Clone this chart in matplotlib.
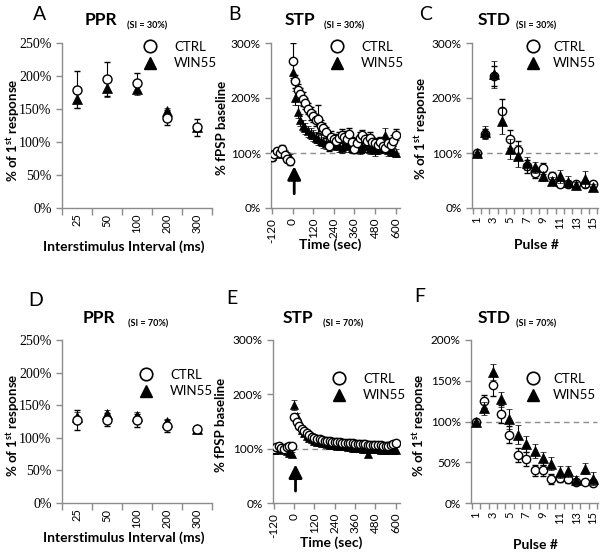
import matplotlib
matplotlib.use('Agg')
import matplotlib.pyplot as plt
from matplotlib.lines import Line2D
import numpy as np

plt.rcParams['font.family'] = ['Lato', 'DejaVu Sans']
plt.rcParams['mathtext.fontset'] = 'custom'
plt.rcParams['mathtext.rm'] = 'Lato'
plt.rcParams['mathtext.bf'] = 'Lato:bold'

# ---------------- data ----------------
ppr_labels = ['25', '50', '100', '200', '300']

pprA_ctrl = [179, 195, 190, 137, 122]
pprA_ctrl_err = [28, 26, 14, 11, 13]
pprA_win = [165, 182, 181, 147, 122]
pprA_win_err = [13, 14, 10, 5, 5]

pprD_ctrl = [127, 128, 127, 118, 113]
pprD_ctrl_err = [15, 10, 10, 9, 5]
pprD_win = [132, 136, 134, 124, 114]
pprD_win_err = [8, 7, 6, 5, 3]

stp_time = list(range(-120, 0, 15)) + list(range(0, 601, 15))

stpB_ctrl = [92, 98, 104, 100, 108, 97, 90, 85,
             268, 230, 215, 208, 198, 190, 180, 172, 167, 160, 162, 150, 145, 138,
             112, 130, 125, 122, 128, 133, 130, 125, 135, 120, 108, 118, 128, 132,
             125, 122, 128, 120, 118, 115, 120, 112, 110, 118, 115, 122, 133]
stpB_ctrl_err = [6, 6, 6, 6, 6, 6, 6, 6,
                 32, 12, 10, 10, 12, 10, 10, 12, 10, 10, 25, 10, 10, 10,
                 8, 10, 10, 10, 10, 10, 10, 10, 10, 10, 8, 10, 10, 10,
                 10, 10, 10, 10, 10, 10, 10, 8, 8, 10, 10, 10, 10]
stpB_win = [95, 100, 102, 98, 105, 100, 95, 93,
            248, 200, 175, 160, 150, 145, 140, 135, 132, 128, 125, 122, 120, 118,
            120, 118, 115, 118, 112, 110, 115, 118, 112, 110, 115, 112, 108, 110,
            115, 112, 108, 110, 105, 108, 112, 110, 132, 105, 103, 102, 100]
stpB_win_err = [6, 6, 6, 6, 6, 6, 6, 6,
                15, 12, 12, 10, 10, 10, 10, 10, 10, 10, 10, 10, 10, 10,
                10, 10, 10, 10, 10, 10, 10, 10, 10, 10, 10, 10, 10, 10,
                10, 10, 10, 10, 10, 10, 10, 10, 14, 10, 8, 8, 8]

stpE_ctrl = [100, 103, 105, 102, 100, 103, 105, 104,
             158, 150, 142, 137, 132, 128, 125, 122, 120, 118, 117, 116, 115, 114,
             114, 113, 113, 112, 112, 111, 111, 110, 110, 110, 109, 109, 108, 108,
             108, 107, 107, 107, 106, 106, 106, 105, 105, 105, 106, 108, 110]
stpE_ctrl_err = [4, 4, 4, 4, 4, 4, 4, 4,
                 6, 5, 5, 5, 5, 5, 5, 5, 5, 5, 5, 5, 5, 5,
                 5, 5, 5, 5, 5, 5, 5, 5, 5, 5, 5, 5, 5, 5,
                 5, 5, 5, 5, 5, 5, 5, 5, 5, 5, 5, 5, 5]
stpE_win = [98, 100, 97, 100, 99, 96, 92, 90,
            180, 160, 145, 135, 128, 124, 120, 118, 115, 113, 112, 110, 110, 108,
            107, 107, 106, 105, 105, 104, 104, 103, 103, 102, 102, 101, 101, 100,
            100, 90, 100, 99, 99, 99, 98, 98, 98, 98, 98, 98, 98]
stpE_win_err = [4, 4, 4, 4, 4, 4, 4, 4,
                9, 6, 5, 5, 5, 5, 5, 5, 5, 5, 5, 5, 5, 5,
                5, 5, 5, 5, 5, 5, 5, 5, 5, 5, 5, 5, 5, 5,
                5, 5, 5, 5, 5, 5, 5, 5, 5, 5, 5, 5, 5]

pulses = list(range(1, 16))

stdC_ctrl = [100, 135, 240, 176, 126, 106, 76, 64, 72, 58, 44, 44, 44, 44, 44]
stdC_ctrl_err = [2, 8, 18, 23, 16, 15, 12, 10, 10, 8, 6, 6, 5, 5, 5]
stdC_win = [100, 138, 243, 158, 107, 94, 81, 74, 58, 50, 58, 48, 42, 53, 39]
stdC_win_err = [2, 12, 25, 23, 18, 20, 12, 10, 8, 7, 12, 10, 5, 14, 5]

stdF_ctrl = [100, 125, 145, 109, 84, 59, 54, 40, 40, 29, 31, 30, 26, 26, 25]
stdF_ctrl_err = [2, 8, 14, 11, 10, 9, 9, 7, 7, 6, 5, 5, 3, 3, 4]
stdF_win = [100, 116, 161, 127, 103, 84, 72, 64, 55, 48, 38, 39, 28, 42, 30]
stdF_win_err = [1, 8, 10, 9, 12, 12, 10, 9, 8, 8, 7, 7, 5, 7, 8]

# ---------------- layout helpers ----------------
W, H = 600, 556
fig = plt.figure(figsize=(6, 5.56), dpi=100)

def box(x0, y0, x1, y1):
    return [x0 / W, 1 - y1 / H, (x1 - x0) / W, (y1 - y0) / H]

def fx(x):
    return x / W

def fy(y):
    return 1 - y / H

GRAY = '#8c8c8c'

def style(ax):
    for s in ['top', 'right']:
        ax.spines[s].set_visible(False)
    for s in ['left', 'bottom']:
        ax.spines[s].set_color(GRAY)
        ax.spines[s].set_linewidth(1.0)
    ax.tick_params(axis='both', colors=GRAY, direction='out', length=4, width=1.0)
    ax.tick_params(axis='both', labelcolor='black')

def series(ax, x, y, e, marker, ms, z):
    if marker == 'o':
        ax.errorbar(x, y, yerr=e, fmt='o', ms=ms, mfc='white', mec='black', mew=1.0,
                    ecolor='black', elinewidth=0.8, capsize=2.5, capthick=0.8, zorder=z)
    else:
        ax.errorbar(x, y, yerr=e, fmt='^', ms=ms, mfc='black', mec='black', mew=0.5,
                    ecolor='black', elinewidth=0.8, capsize=2.5, capthick=0.8, zorder=z)

def legend(ax, x, y, fs=9.5, pad=1.3):
    h = [Line2D([], [], ls='none', marker='o', ms=9, mfc='white', mec='black', mew=1.2),
         Line2D([], [], ls='none', marker='^', ms=9, mfc='black', mec='black')]
    ax.legend(h, ['CTRL', 'WIN55'], loc='upper left', bbox_to_anchor=(fx(x), fy(y)),
              bbox_transform=fig.transFigure, frameon=False, borderpad=0,
              handlelength=1.0, handletextpad=pad, labelspacing=0.35,
              prop={'size': fs})

def pct_fmt(ax, vals, serif=False, fs=8.5):
    ax.set_yticks(vals)
    ax.set_yticklabels(['%d%%' % v for v in vals],
                       family=(['Liberation Serif'] if serif else ['Lato']),
                       fontsize=fs)

def title(x, xs, y, main, sub):
    fig.text(fx(x), fy(y), main, fontsize=12.5, fontweight='bold', ha='left', va='baseline')
    fig.text(fx(xs), fy(y + 3), sub, fontsize=6.5,
             fontweight='bold', ha='left', va='baseline')

def letter(x, y, s):
    fig.text(fx(x), fy(y), s, fontsize=14, ha='center', va='center')

def ylabel(x, y, s):
    fig.text(fx(x), fy(y), s, fontsize=9.5, fontweight='bold', rotation=90,
             ha='center', va='center')

def xlabel(x, y, s):
    fig.text(fx(x), fy(y), s, fontsize=10, fontweight='bold', ha='center', va='center')

ylab1 = r'% of 1$^{\mathbf{st}}$ response'
ylab2 = '% fPSP baseline'

# ---------------- PPR panels ----------------
def ppr_panel(rect, ctrl, ce, win, we):
    ax = fig.add_axes(rect)
    style(ax)
    xs = np.arange(len(ppr_labels))
    series(ax, xs, win, we, '^', 6.5, 3)
    series(ax, xs, ctrl, ce, 'o', 6.5, 4)
    ax.set_xlim(-0.5, len(ppr_labels) - 0.5)
    ax.set_ylim(0, 250)
    pct_fmt(ax, [0, 50, 100, 150, 200, 250], serif=True, fs=10)
    ax.set_xticks(np.arange(-0.5, len(ppr_labels), 1.0))
    ax.set_xticklabels([])
    ax.set_xticks(xs, minor=True)
    ax.set_xticklabels(ppr_labels, minor=True, rotation=90, fontsize=8)
    ax.tick_params(axis='x', which='minor', length=0, pad=4)
    ax.tick_params(axis='x', which='major', length=5)
    return ax

axA = ppr_panel(box(62, 43, 212, 208), pprA_ctrl, pprA_ctrl_err, pprA_win, pprA_win_err)
legend(axA, 137, 34)
axD = ppr_panel(box(62, 340, 212, 503), pprD_ctrl, pprD_ctrl_err, pprD_win, pprD_win_err)
legend(axD, 133, 362)

# ---------------- STP panels ----------------
def stp_panel(rect, ctrl, ce, win, we, arrow_x, arrow_y0, arrow_y1):
    ax = fig.add_axes(rect)
    style(ax)
    ax.axhline(100, color=GRAY, ls=(0, (4, 3)), lw=1.0, zorder=1)
    series(ax, stp_time, win, we, '^', 6, 3)
    series(ax, stp_time, ctrl, ce, 'o', 6, 4)
    ax.set_xlim(-125, 625)
    ax.set_ylim(0, 300)
    pct_fmt(ax, [0, 100, 200, 300], fs=8.5)
    ticks = [-120, 0, 120, 240, 360, 480, 600]
    ax.set_xticks(ticks)
    ax.set_xticklabels([str(t) for t in ticks], rotation=90, fontsize=8.5)
    ax.tick_params(axis='x', pad=3)
    ax.annotate('', xy=(arrow_x, arrow_y1), xytext=(arrow_x, arrow_y0),
                arrowprops=dict(arrowstyle='-|>,head_width=0.4,head_length=0.8',
                                color='black', lw=2.0, shrinkA=0, shrinkB=0), zorder=5)
    return ax

axB = stp_panel(box(271, 43, 400, 208), stpB_ctrl, stpB_ctrl_err, stpB_win, stpB_win_err,
                10, 26, 76)
legend(axB, 324, 34)
axE = stp_panel(box(273, 340, 400, 503), stpE_ctrl, stpE_ctrl_err, stpE_win, stpE_win_err,
                8, 22, 71)
legend(axE, 326, 366)

# ---------------- STD panels ----------------
def std_panel(rect, ctrl, ce, win, we, ymax, yt):
    ax = fig.add_axes(rect)
    style(ax)
    ax.plot([1, 15.5], [100, 100], color=GRAY, ls=(0, (4, 3)), lw=1.0, zorder=1)
    series(ax, pulses, ctrl, ce, 'o', 6, 3)
    series(ax, pulses, win, we, '^', 6.5, 4)
    ax.set_xlim(0.4, 15.6)
    ax.set_ylim(0, ymax)
    pct_fmt(ax, yt, fs=8.5)
    ax.set_xticks(np.arange(0.5, 16, 1.0))
    ax.set_xticklabels([])
    ax.set_xticks(pulses, minor=True)
    ax.set_xticklabels([str(p) if p % 2 == 1 else '' for p in pulses], minor=True,
                       rotation=90, fontsize=8)
    ax.tick_params(axis='x', which='minor', length=0, pad=6)
    ax.tick_params(axis='x', which='major', length=4)
    return ax

axC = std_panel(box(472, 43, 598, 208), stdC_ctrl, stdC_ctrl_err, stdC_win, stdC_win_err,
                300, [0, 100, 200, 300])
legend(axC, 520, 34, pad=1.0)
axF = std_panel(box(471, 340, 598, 503), stdF_ctrl, stdF_ctrl_err, stdF_win, stdF_win_err,
                200, [0, 50, 100, 150, 200])
legend(axF, 520, 366, pad=1.0)

# ---------------- text ----------------
letter(40, 15, 'A'); letter(234, 14, 'B'); letter(426, 14, 'C')
letter(36, 300, 'D'); letter(232, 298, 'E'); letter(420, 297, 'F')

title(85, 127, 25, 'PPR', '(SI = 30%)')
title(285, 324, 25, 'STP', '(SI = 30%)')
title(478, 516, 25, 'STD', '(SI = 30%)')
title(83, 128, 323, 'PPR', '(SI = 70%)')
title(283, 323, 323, 'STP', '(SI = 70%)')
title(478, 516, 323, 'STD', '(SI = 70%)')

ylabel(13, 130, ylab1)
ylabel(222, 128, ylab2)
ylabel(421, 128, ylab1)
ylabel(13, 425, ylab1)
ylabel(221, 425, ylab2)
ylabel(419, 425, ylab1)

xlabel(124, 247, 'Interstimulus Interval (ms)')
xlabel(330, 245, 'Time (sec)')
xlabel(536, 245, 'Pulse #')
xlabel(124, 538, 'Interstimulus Interval (ms)')
xlabel(331, 543, 'Time (sec)')
xlabel(535, 545, 'Pulse #')

fig.savefig('out.png', dpi=100)
